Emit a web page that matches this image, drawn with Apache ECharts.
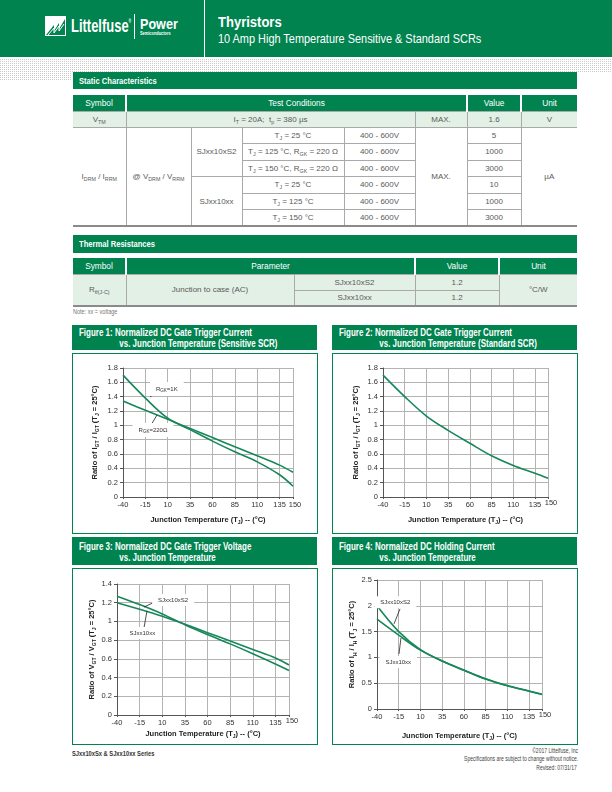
<!DOCTYPE html>
<html><head><meta charset="utf-8">
<script src="https://cdn.jsdelivr.net/npm/echarts@6/dist/echarts.min.js"></script>
<style>
body{margin:0;background:#fff;}
#page{position:relative;width:612px;height:792px;overflow:hidden;font-family:"Liberation Sans",Arial,sans-serif;color:#555;}
.a{position:absolute;}
.cx{display:inline-block;transform-origin:0 50%;white-space:nowrap;}
.green{background:#00834f;}
.dots{background-color:#fff;background-image:repeating-linear-gradient(90deg,rgba(255,255,255,0) 0 1px,#fff 1px 2px),repeating-linear-gradient(0deg,#c9c9c9 0 1px,#fff 1px 2px);}
.secbar{color:#fff;font-weight:bold;font-size:9.5px;line-height:17px;padding-left:6px;box-sizing:border-box;}
table.t{position:absolute;border-collapse:collapse;table-layout:fixed;font-size:8px;color:#5a5a5a;}
table.t td{padding:0;text-align:center;border:1px solid #a9a9a9;white-space:nowrap;}
table.t tr.h td{background:#00834f;color:#fff;border:none;border-left:2px solid #fff;font-size:8.3px;}
table.t tr.h td:first-child{border-left:none;}
table.t td.l{border-left:none;}
table.t td.r{border-right:none;}
table.t tr.last td{border-bottom:2px solid #8a8a8a;}
table.t td.lastb{border-bottom:2px solid #8a8a8a;}
.lg{background:#e3f0e6;}
sub{font-size:5.3px;vertical-align:-1.5px;line-height:0;}
.fh{color:#fff;font-weight:bold;font-size:10.5px;line-height:11px;box-sizing:border-box;padding-left:7px;}
.fh .cx{transform:scaleX(0.76);}
.box{border:1.5px solid #00834f;box-sizing:border-box;background:#fff;}
#chart{position:absolute;left:0;top:0;width:612px;height:792px;z-index:5;}
</style></head>
<body><div id="page">
<!-- header -->
<div class="a green" style="left:0;top:0;width:612px;height:57px;"></div>
<div class="a dots" style="left:0;top:59px;width:612px;height:13px;"></div>
<div class="a dots" style="left:0;top:72px;width:72px;height:8px;"></div>
<div class="a" style="left:204px;top:0;width:1px;height:57px;background:#fff;"></div>
<svg class="a" style="left:45px;top:16px;" width="22" height="20" viewBox="0 0 22 20">
<rect x="0" y="0" width="21" height="20" fill="#fff"/>
<path d="M1 19 L9 9 L9 15 L14 7 L14 13 L20 3 L20 19 Z" fill="#00834f"/>
<path d="M3 19 L9 12 L9 17 L14 10 L14 15 L19 8" stroke="#fff" stroke-width="1" fill="none"/>
</svg>
<div class="a" style="left:71px;top:16px;color:#fff;font-weight:bold;font-size:18px;"><span class="cx" style="transform:scaleX(0.72);">Littelfuse<span style="font-size:5px;vertical-align:9px;">®</span></span></div>
<div class="a" style="left:134px;top:14px;width:1px;height:25px;background:#fff;"></div>
<div class="a" style="left:140px;top:16px;color:#fff;font-weight:bold;font-size:14px;"><span class="cx" style="transform:scaleX(0.9);">Power</span></div>
<div class="a" style="left:140px;top:31px;color:#fff;font-weight:bold;font-size:4.6px;"><span class="cx" style="transform:scaleX(0.85);">Semiconductors</span></div>
<div class="a" style="left:218px;top:14px;color:#fff;font-weight:bold;font-size:14px;"><span class="cx" style="transform:scaleX(0.93);">Thyristors</span></div>
<div class="a" style="left:218px;top:31px;color:#fff;font-size:13px;"><span class="cx" style="transform:scaleX(0.84);">10 Amp High Temperature Sensitive &amp; Standard SCRs</span></div>

<!-- static characteristics -->
<div class="a green secbar" style="left:73px;top:72px;width:504px;height:17px;"><span class="cx" style="transform:scaleX(0.8);">Static Characteristics</span></div>
<table class="t" style="left:73px;top:95px;width:504px;">
<colgroup><col style="width:53px"><col style="width:65px"><col style="width:51px"><col style="width:102px"><col style="width:71px"><col style="width:52px"><col style="width:54px"><col style="width:56px"></colgroup>
<tr class="h" style="height:16px"><td>Symbol</td><td colspan="5">Test Conditions</td><td>Value</td><td>Unit</td></tr>
<tr class="lg" style="height:16px"><td class="l">V<sub>TM</sub></td><td colspan="4">I<sub>T</sub> = 20A;&nbsp; t<sub>p</sub> = 380 µs</td><td>MAX.</td><td>1.6</td><td class="r">V</td></tr>
<tr style="height:16.5px"><td class="l lastb" rowspan="6">I<sub>DRM</sub> / I<sub>RRM</sub></td><td rowspan="6" class="lastb">@ V<sub>DRM</sub> / V<sub>RRM</sub></td><td rowspan="3">SJxx10xS2</td><td>T<sub>J</sub> = 25 °C</td><td>400 - 600V</td><td rowspan="6" class="lastb">MAX.</td><td>5</td><td rowspan="6" class="r lastb">µA</td></tr>
<tr style="height:16.5px"><td>T<sub>J</sub> = 125 °C, R<sub>GK</sub> = 220 Ω</td><td>400 - 600V</td><td>1000</td></tr>
<tr style="height:16.5px"><td>T<sub>J</sub> = 150 °C, R<sub>GK</sub> = 220 Ω</td><td>400 - 600V</td><td>3000</td></tr>
<tr style="height:16.5px"><td rowspan="3" class="lastb">SJxx10xx</td><td>T<sub>J</sub> = 25 °C</td><td>400 - 600V</td><td>10</td></tr>
<tr style="height:16.5px"><td>T<sub>J</sub> = 125 °C</td><td>400 - 600V</td><td>1000</td></tr>
<tr class="last" style="height:16.5px"><td>T<sub>J</sub> = 150 °C</td><td>400 - 600V</td><td>3000</td></tr>
</table>

<!-- thermal -->
<div class="a green secbar" style="left:73px;top:235px;width:504px;height:18px;line-height:18px;"><span class="cx" style="transform:scaleX(0.8);">Thermal Resistances</span></div>
<table class="t" style="left:73px;top:258px;width:504px;">
<colgroup><col style="width:53px"><col style="width:168px"><col style="width:121px"><col style="width:84px"><col style="width:78px"></colgroup>
<tr class="h" style="height:16px"><td>Symbol</td><td colspan="2">Parameter</td><td>Value</td><td>Unit</td></tr>
<tr class="lg" style="height:16px"><td class="l lastb" rowspan="2">R<sub>θ(J-C)</sub></td><td rowspan="2" class="lastb">Junction to case (AC)</td><td>SJxx10xS2</td><td>1.2</td><td rowspan="2" class="r lastb">°C/W</td></tr>
<tr class="lg last" style="height:16px"><td>SJxx10xx</td><td>1.2</td></tr>
</table>
<div class="a" style="left:73px;top:308px;font-size:6.5px;color:#777;"><span class="cx" style="transform:scaleX(0.85);">Note: xx = voltage</span></div>

<!-- figure frames -->
<div class="a green fh" style="left:72px;top:325px;width:245px;height:25px;padding-top:2px;"><span class="cx">Figure 1: Normalized DC Gate Trigger Current</span><br><span class="cx" style="padding-left:53px;">vs. Junction Temperature (Sensitive SCR)</span></div>
<div class="a box" style="left:72px;top:353px;width:246px;height:181px;"></div>
<div class="a green fh" style="left:332px;top:325px;width:245px;height:25px;padding-top:2px;"><span class="cx">Figure 2: Normalized DC Gate Trigger Current</span><br><span class="cx" style="padding-left:53px;">vs. Junction Temperature (Standard SCR)</span></div>
<div class="a box" style="left:332px;top:353px;width:246px;height:181px;"></div>
<div class="a green fh" style="left:72px;top:537px;width:245px;height:28px;padding-top:4px;"><span class="cx">Figure 3: Normalized DC Gate Trigger Voltage</span><br><span class="cx" style="padding-left:53px;">vs. Junction Temperature</span></div>
<div class="a box" style="left:72px;top:568px;width:246px;height:177px;"></div>
<div class="a green fh" style="left:332px;top:537px;width:245px;height:28px;padding-top:4px;"><span class="cx">Figure 4: Normalized DC Holding Current</span><br><span class="cx" style="padding-left:53px;">vs. Junction Temperature</span></div>
<div class="a box" style="left:332px;top:568px;width:246px;height:177px;"></div>

<!-- footer -->
<div class="a" style="left:72px;top:750px;font-size:7px;font-weight:bold;color:#333;"><span class="cx" style="transform:scaleX(0.82);">SJxx10xSx &amp; SJxx10xx Series</span></div>
<div class="a" style="right:34px;top:747px;font-size:6.8px;color:#444;text-align:right;line-height:8px;"><span class="cx" style="transform:scaleX(0.74);transform-origin:100% 50%;">©2017 Littelfuse, Inc</span><br><span class="cx" style="transform:scaleX(0.74);transform-origin:100% 50%;">Specifications are subject to change without notice.</span></div>
<div class="a" style="right:35px;top:764px;font-size:6.8px;color:#444;"><span class="cx" style="transform:scaleX(0.74);transform-origin:100% 50%;">Revised: 07/31/17</span></div>

<div id="chart"></div>
</div>
<script>
// ---- data ----
const temps = [-40, -15, 10, 35, 60, 85, 110, 135, 150];
const xTickMin = -40, xTickMax = 150, xTickStep = 25;
const fig1Rgk1K   = [1.70, 1.38, 1.10, 0.94, 0.78, 0.63, 0.49, 0.31, 0.15];
const fig1Rgk220  = [1.34, 1.21, 1.085, 0.955, 0.83, 0.70, 0.575, 0.445, 0.345];
const fig2Std     = [1.70, 1.40, 1.13, 0.93, 0.75, 0.575, 0.44, 0.33, 0.26];
const fig3S2      = [1.27, 1.18, 1.08, 0.965, 0.86, 0.76, 0.655, 0.545, 0.475];
const fig3xx      = [1.20, 1.13, 1.055, 0.97, 0.88, 0.79, 0.70, 0.61, 0.535];
const fig4S2      = [2.00, 1.50, 1.15, 0.93, 0.75, 0.58, 0.45, 0.345, 0.28];
const fig4xx      = [1.74, 1.43, 1.14, 0.93, 0.755, 0.585, 0.455, 0.35, 0.285];
const yMax = [1.8, 1.8, 1.4, 2.5];
const yStep = [0.2, 0.2, 0.2, 0.5];

// ---- annotations (data coordinates) ----
const notes = [
  {g:0, text:'R{s|GK}=1K', at:[9, 1.507], line:[[-9.8,1.395],[0.2,1.49]]},
  {g:0, text:'R{s|GK}=220Ω', at:[-6.5, 0.935], line:[[-8.7,1.005],[-2,1.144]]},
  {g:2, text:'SJxx10xS2', at:[22, 1.229], line:[[-10.2,1.154],[4.2,1.218]]},
  {g:2, text:'SJxx10xx', at:[-12, 0.876], line:[[-6.9,1.111],[-10.2,0.93]]},
  {g:3, text:'SJxx10xS2', at:[-19, 2.07], line:[[-13.5,1.94],[-20.4,1.65]]},
  {g:3, text:'SJxx10xx', at:[-15.5, 0.91], line:[[-14.7,1.066],[-12.4,1.376]]}
];

const FONT = '"Liberation Sans",Arial,sans-serif';
const LINE = '#17875a';
const sub = {fontSize:5, fontWeight:'bold', color:'#222', fontFamily:FONT, verticalAlign:'bottom', lineHeight:8, padding:[4,0,0,0]};
const nameStyle = {fontSize:7.5, fontWeight:'bold', color:'#222', fontFamily:FONT, lineHeight:11, rich:{s:sub}};

const grids = [
  {left:123, top:368, width:170, height:129},
  {left:383, top:368, width:165, height:129},
  {left:117, top:584, width:172, height:131},
  {left:377, top:580, width:165, height:129}
];
const xGaps = [17, 17, 13, 21];
const yGaps = [23, 22, 20, 17];
const yNames = [
  'Ratio of I{s|GT} / I{s|GT} (T{s|J} = 25°C)',
  'Ratio of I{s|GT} / I{s|GT} (T{s|J} = 25°C)',
  'Ratio of V{s|GT} / V{s|GT} (T{s|J} = 25°C)',
  'Ratio of I{s|H} / I{s|H} (T{s|J} = 25°C)'
];

const xAxes = grids.map((g,i)=>({
  type:'value', gridIndex:i, min:xTickMin, max:xTickMax, interval:xTickStep,
  name:'Junction Temperature (T{s|J}) -- (°C)', nameLocation:'middle', nameGap:xGaps[i], nameTextStyle:nameStyle,
  axisLine:{show:true, onZero:false, lineStyle:{color:'#555', width:1}},
  axisTick:{show:true, length:2, lineStyle:{color:'#555'}},
  axisLabel:{fontSize:7.5, color:'#333', margin:1, fontFamily:FONT, showMaxLabel:true, showMinLabel:true,
    formatter:v=> v===xTickMax ? '{m|'+v+'}' : '{n|'+v+'}',
    rich:{n:{fontSize:7.5, color:'#333', fontFamily:FONT, padding:[3,0,0,0]},
          m:{fontSize:7.5, color:'#333', fontFamily:FONT, padding:[i===0?3:1,0,0,i===0?4:6]}}},
  splitLine:{show:true, lineStyle:{color:'#b3b3b3', width:1}}
}));
const yAxes = grids.map((g,i)=>({
  type:'value', gridIndex:i, min:0, max:yMax[i], interval:yStep[i],
  name:yNames[i], nameLocation:'middle', nameGap:yGaps[i], nameTextStyle:nameStyle,
  axisLine:{show:true, onZero:false, lineStyle:{color:'#555', width:1}},
  axisTick:{show:true, length:3, lineStyle:{color:'#555'}},
  axisLabel:{fontSize:7.5, color:'#333', margin:5, fontFamily:FONT, formatter:v=>String(+v.toFixed(2))},
  splitLine:{show:true, lineStyle:{color:'#b3b3b3', width:1}}
}));

function mk(vals, gi){
  return {
    type:'line', xAxisIndex:gi, yAxisIndex:gi, smooth:0.35, showSymbol:false,
    lineStyle:{color:LINE, width:1.6}, itemStyle:{color:LINE}, z:3,
    data: temps.map((t,k)=>[t, vals[k]])
  };
}
const series = [mk(fig1Rgk1K,0), mk(fig1Rgk220,0), mk(fig2Std,1), mk(fig3S2,2), mk(fig3xx,2), mk(fig4S2,3), mk(fig4xx,3)];

// annotation series (one per grid)
[0,2,3].forEach(gi=>{
  const ns = notes.filter(n=>n.g===gi);
  series.push({
    type:'line', xAxisIndex:gi, yAxisIndex:gi, data:[], z:6,
    markLine:{silent:true, symbol:['none','none'], animation:false, label:{show:false},
      lineStyle:{color:'#222', width:0.8, type:'solid'},
      data: ns.map(n=>[{coord:n.line[0]},{coord:n.line[1]}])},
    markPoint:{silent:true, symbol:'rect', symbolSize:1, itemStyle:{color:'rgba(0,0,0,0)'}, animation:false,
      data: ns.map(n=>({coord:n.at, value:0,
        label:{show:true, position:'inside', formatter:n.text, color:'#333', fontSize:6, fontFamily:FONT,
          backgroundColor:'#fff', padding:[3,6],
          rich:{s:{fontSize:4.5, color:'#333', fontFamily:FONT, verticalAlign:'bottom', padding:[3,0,0,0]}}}}))}
  });
});

const chart = echarts.init(document.getElementById('chart'), null, {renderer:'canvas'});
chart.setOption({animation:false, backgroundColor:'transparent', grid:grids, xAxis:xAxes, yAxis:yAxes, series:series});
</script>
</body></html>
